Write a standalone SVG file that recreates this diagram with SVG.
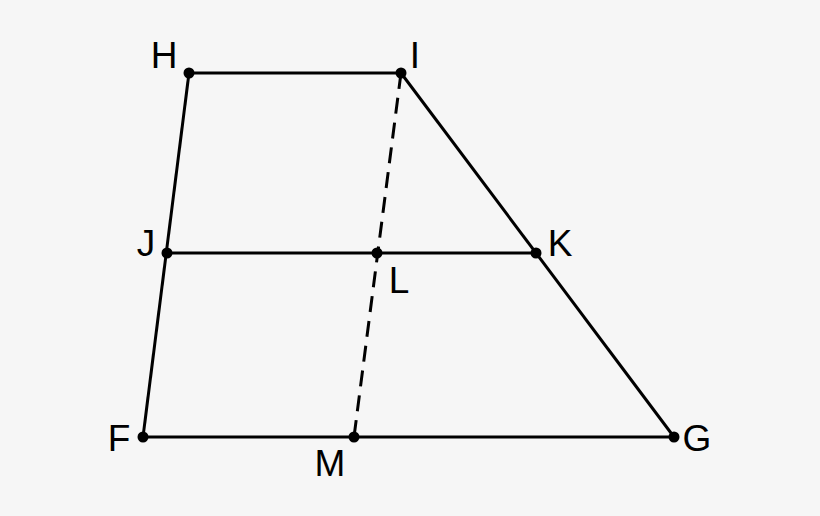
<svg xmlns="http://www.w3.org/2000/svg" width="820" height="516" viewBox="0 0 820 516">
<style>
.ln{stroke:#000;stroke-width:3;fill:none}
.dash{stroke:#000;stroke-width:3;fill:none;stroke-dasharray:16 9}
.pt{fill:#000}
.lb{font-family:"Liberation Sans",Arial,sans-serif;font-size:37px;fill:#000;text-anchor:middle}
</style>
<rect width="820" height="516" fill="#f6f6f6"/>
<g id="connectors">
<line class="ln" x1="189" y1="73" x2="401" y2="73"/>
<line class="ln" x1="189" y1="73" x2="143" y2="437"/>
<line class="ln" x1="401" y1="73" x2="674" y2="437"/>
<line class="ln" x1="143" y1="437" x2="674" y2="437"/>
<line class="ln" x1="167" y1="253" x2="536" y2="253"/>
<line class="dash" x1="401" y1="73" x2="354" y2="437"/>
</g>
<g id="H"><circle class="pt" cx="189" cy="73" r="5.5"/><text class="lb" x="164" y="68">H</text></g>
<g id="I"><circle class="pt" cx="401" cy="73" r="5.5"/><text class="lb" x="415" y="68">I</text></g>
<g id="J"><circle class="pt" cx="167" cy="253" r="5.5"/><text class="lb" x="146" y="256">J</text></g>
<g id="L"><circle class="pt" cx="377" cy="253" r="5.5"/><text class="lb" x="399" y="293">L</text></g>
<g id="K"><circle class="pt" cx="536" cy="253" r="5.5"/><text class="lb" x="560" y="256">K</text></g>
<g id="F"><circle class="pt" cx="143" cy="437" r="5.5"/><text class="lb" x="119" y="451">F</text></g>
<g id="M"><circle class="pt" cx="354" cy="437" r="5.5"/><text class="lb" x="330" y="476">M</text></g>
<g id="G"><circle class="pt" cx="674" cy="437" r="5.5"/><text class="lb" x="697" y="451">G</text></g>
</svg>
